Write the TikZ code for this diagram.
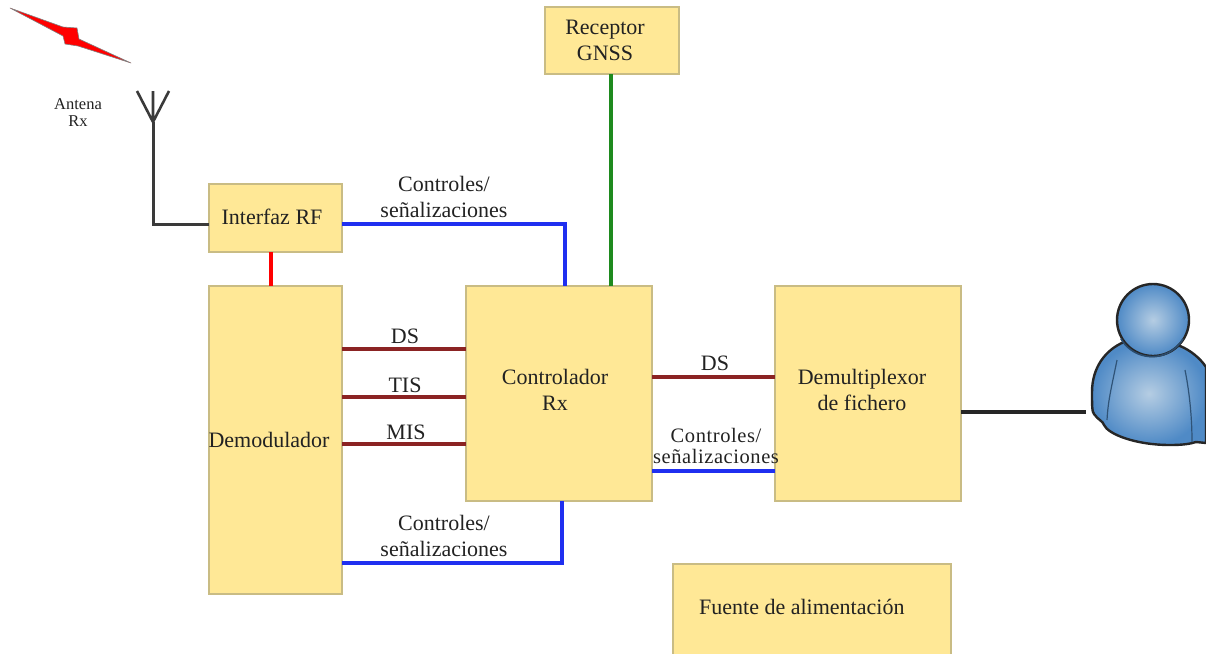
\documentclass[tikz,border=0pt]{standalone}
\usepackage{fontspec}
\setmainfont{Liberation Serif}
\usetikzlibrary{calc}
\definecolor{boxfill}{HTML}{FFE896}
\definecolor{boxline}{HTML}{C9BC84}
\definecolor{txt}{HTML}{222222}
\definecolor{dsred}{HTML}{8B2323}
\definecolor{sigblue}{HTML}{1F2FF0}
\definecolor{gnss}{HTML}{1E8A1E}
\definecolor{wire}{HTML}{3A3A3A}
\definecolor{persona}{HTML}{4F8AC6}
\definecolor{personb}{HTML}{B5CDE3}
\tikzset{
  x=1pt,y=-1pt,
  blockbox/.style={draw=boxline,line width=1.8pt,fill=boxfill,inner sep=0pt,outer sep=0pt,anchor=north west},
  lbl/.style={text=txt,font=\fontsize{22}{26}\selectfont,align=center,inner sep=0pt},
  lblsmall/.style={text=txt,font=\fontsize{20.5}{20.5}\selectfont\addfontfeature{LetterSpace=2.8},align=center,inner sep=0pt},
  dsline/.style={draw=dsred,line width=3.2pt},
  sigline/.style={draw=sigblue,line width=3.4pt},
  rfline/.style={draw=red,line width=3.2pt},
  gline/.style={draw=gnss,line width=3.6pt},
  wireline/.style={draw=wire,line width=3pt},
  userline/.style={draw=black!85,line width=3.4pt},
  persongrad/.style={shade,inner color=personb,outer color=persona},
}
\begin{document}
\begin{tikzpicture}
\useasboundingbox (0,0) rectangle (1206,653);
% blocks
\node[blockbox,minimum width=134pt,minimum height=67pt] (gnss) at (545,7) {};
\node[blockbox,minimum width=133pt,minimum height=68pt] (rf) at (209,184) {};
\node[blockbox,minimum width=133pt,minimum height=308pt] (dem) at (209,286) {};
\node[blockbox,minimum width=186pt,minimum height=215pt] (ctl) at (466,286) {};
\node[blockbox,minimum width=186pt,minimum height=215pt] (dmx) at (775,286) {};
\path[draw=boxline,line width=1.8pt,fill=boxfill] (673,664) -- (673,564) -- (951,564) -- (951,664);
% antenna
\coordinate (ant) at (153,122);
\coordinate (antbase) at (153,224);
\draw[wireline,line join=miter] (ant) -- (antbase) -- (rf.west |- antbase);
\draw[wireline,line width=2.6pt,line join=round] (137,91) -- (ant) -- (169,91) (ant) -- (153,91);
% connectors
\coordinate (g1) at (611,0);
\draw[gline] (gnss.south -| g1) -- (ctl.north -| g1);
\draw[rfline] (rf.south -| 271,0) -- (dem.north -| 271,0);
\coordinate (t1) at (565,224);
\draw[sigline,line join=miter] (rf.east |- t1) -- (t1) -- (ctl.north -| t1);
\coordinate (b1) at (562,563);
\draw[sigline,line join=miter] (dem.east |- b1) -- (b1) -- (ctl.south -| b1);
\draw[dsline] (dem.east |- 0,349) -- (ctl.west |- 0,349);
\draw[dsline] (dem.east |- 0,397) -- (ctl.west |- 0,397);
\draw[dsline] (dem.east |- 0,444) -- (ctl.west |- 0,444);
\draw[dsline] (ctl.east |- 0,377) -- (dmx.west |- 0,377);
\draw[sigline] (ctl.east |- 0,471) -- (dmx.west |- 0,471);
% bolt
\fill[red,draw=black!50,line width=.6pt,line join=round] (10,8) -- (63,27) -- (77,28) -- (79,39) -- (131,63) -- (78,46) -- (65,44) -- (63,36) -- cycle;
% person
\path[draw=black!85,line width=2.4pt,persongrad] (1124,342)
  .. controls (1105,350) and (1092,368) .. (1092,392)
  .. controls (1092,405) and (1092,412) .. (1094,414)
  .. controls (1098,420) and (1103,421) .. (1104,425)
  .. controls (1108,434) and (1135,445) .. (1170,445)
  .. controls (1182,445) and (1190,444) .. (1196,442)
  -- (1206,443) -- (1206,367) .. controls (1200,358) and (1190,350) .. (1180,346) -- cycle;
\node[circle,draw=black!85,line width=2.4pt,minimum size=72pt,inner sep=0pt,persongrad] (user) at (1153,320) {};
\draw[draw=persona!55!black,line width=1.6pt] (user.210) arc[start angle=210,end angle=330,radius=36pt];
\draw[draw=persona!60!black,line width=1.2pt] (1117,360) .. controls (1112,385) and (1108,400) .. (1107,420);
\draw[draw=persona!60!black,line width=1.2pt] (1185,370) .. controls (1190,395) and (1192,420) .. (1192,442);
\coordinate (userin) at (1086,412);
\draw[userline] (dmx.east |- userin) -- (userin);
% texts
\node[lbl] (gnsst) at (605,40.5) {Receptor\\GNSS};
\node[lbl] (rft) at (272,217) {Interfaz RF};
\node[lbl] (demt) at (269,440) {Demodulador};
\node[lbl] (ctlt) at (555,390) {Controlador\\Rx};
\node[lbl] (dmxt) at (862,390) {Demultiplexor\\de fichero};
\node[lbl,anchor=west] (fuentet) at (699,607) {Fuente de alimentación};
\node[lbl] (c1) at (444,197) {Controles/\\señalizaciones};
\node[lbl] (c2) at (444,535.5) {Controles/\\señalizaciones};
\node[lblsmall] (c3) at (716,446) {Controles/\\señalizaciones};
\node[lbl] (d1) at (405,336) {DS};
\node[lbl] (d2) at (405,385) {TIS};
\node[lbl] (d3) at (406,432) {MIS};
\node[lbl] (d4) at (715,363) {DS};
\node[text=txt,font=\fontsize{16.5}{17}\selectfont,align=center,inner sep=0pt] (antt) at (78,112.5) {Antena\\Rx};
\end{tikzpicture}
\end{document}
